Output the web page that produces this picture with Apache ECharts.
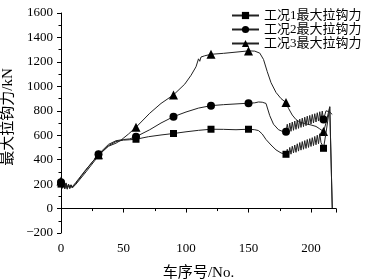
<!DOCTYPE html>
<html><head><meta charset="utf-8">
<script src="https://cdn.jsdelivr.net/npm/echarts@6/dist/echarts.min.js"></script>
<style>html,body{margin:0;padding:0;background:#fff}#c{width:367px;height:279px}</style>
</head><body><div id="c"></div>
<script>
const seriesNames = ['工况1最大拉钩力','工况2最大拉钩力','工况3最大拉钩力'];
const markerX = [0,30,60,90,120,150,180,210];
const xTicks = [0,50,100,150,200];
const yTicks = [-200,0,200,400,600,800,1000,1200,1400,1600];

const x1 = [0,1,2,3,4,5,6,7,8,9,10,12,20,30,38,44,50,55,60,70,80,90,100,110,120,130,140,150,155,158,161,164,168,172,176,180,
  181,182,183,184,185,186,187,188,189,190,191,192,193,194,195,196,197,198,199,200,201,202,203,204,205,206,207,208,209,210,212,215,217];
const y1 = [200,165,205,160,200,158,195,162,190,168,182,200,300,432,515,548,560,563,567,588,602,614,628,640,649,648,645,649,645,638,610,565,520,480,455,444,
  485,435,500,445,510,455,520,460,530,470,540,478,548,485,556,492,565,500,572,508,580,515,590,522,600,530,612,540,520,493,620,830,5];

const x2 = [0,1,2,3,4,5,6,7,8,9,10,12,20,30,38,44,50,55,60,71,80,90,100,110,120,130,140,150,155,158,159,161,164,167,170,174,177,180,
  181,182,183,184,185,186,187,188,189,190,191,192,193,194,195,196,197,198,199,200,201,202,203,204,205,206,207,208,209,210,212,215,217];
const y2 = [215,170,210,165,205,162,198,168,192,172,185,208,315,445,525,555,565,570,588,645,700,752,790,822,842,850,856,862,865,872,866,870,860,760,690,645,632,629,
  690,625,700,632,708,640,716,648,724,656,732,664,740,670,748,678,756,686,762,692,770,700,776,708,784,716,792,722,798,728,800,790,770,834,5];

const x3 = [0,1,2,3,4,5,6,7,8,9,10,12,20,30,38,44,48,54,60,71,80,90,99,104,108,110,111,112,115,120,130,140,150,155,159,162,165,168,172,176,180,
  182,185,188,191,195,200,204,207,210,212,215,217];
const y3 = [225,175,215,170,210,168,200,172,195,178,190,215,320,440,510,535,560,610,665,780,860,930,1018,1090,1160,1225,1205,1240,1250,1262,1270,1280,1290,1288,1272,1220,1120,1030,950,900,867,
  820,765,728,708,695,684,672,652,630,700,834,5];

const symbols = ['rect','circle','triangle'];
const symbolSizes = [7,8,9];

function build(xs, ys, sym, size) {
  return xs.map((x, i) => markerX.includes(x)
    ? {value:[x, ys[i]], symbol: sym, symbolSize: size}
    : {value:[x, ys[i]], symbol: 'none'});
}

const fontF = "'Liberation Serif','Noto Sans CJK SC',serif";
const chart = echarts.init(document.getElementById('c'), null, {renderer:'canvas'});
const allX = [x1,x2,x3], allY = [y1,y2,y3];
chart.setOption({
  animation:false,
  backgroundColor:'#fff',
  grid:{left:61, right:31, top:13, bottom:46, containLabel:false, outerBoundsMode:'none'},
  legend:{
    orient:'vertical', left:226, top:4, itemGap:1, itemWidth:27, itemHeight:9,
    textStyle:{fontFamily:fontF, fontSize:13, color:'#000'},
    data: seriesNames
  },
  xAxis:{
    type:'value', min:0, max:220, interval:50,
    name:'车序号/No.', nameLocation:'middle', nameGap:33,
    nameTextStyle:{fontFamily:fontF, fontSize:15, color:'#000'},
    axisLine:{lineStyle:{color:'#000', width:1}},
    axisTick:{show:true, length:4, lineStyle:{color:'#000'}},
    minorTick:{show:true, splitNumber:2, length:2.5, lineStyle:{color:'#000'}},
    axisLabel:{fontFamily:fontF, fontSize:13, color:'#000', margin:9,
      formatter: v => xTicks.includes(v) ? String(v) : ''},
    splitLine:{show:false}
  },
  yAxis:{
    type:'value', min:-200, max:1600, interval:200,
    name:'最大拉钩力/kN', nameLocation:'middle', nameGap:34,
    nameTextStyle:{fontFamily:fontF, fontSize:15, color:'#000', padding:[0,0,0,12]},
    axisLine:{show:true, lineStyle:{color:'#000', width:1}},
    axisTick:{show:true, length:4, lineStyle:{color:'#000'}},
    minorTick:{show:true, splitNumber:2, length:2.5, lineStyle:{color:'#000'}},
    axisLabel:{fontFamily:fontF, fontSize:13, color:'#000', margin:8,
      formatter: v => yTicks.includes(v) ? String(v).replace('-', '\u2212') : ''},
    splitLine:{show:false}
  },
  series: seriesNames.map((n, k) => ({
    name:n, type:'line', symbol:symbols[k], symbolSize:symbolSizes[k], showSymbol:true,
    data: build(allX[k], allY[k], symbols[k], symbolSizes[k]),
    itemStyle:{color:'#000'},
    lineStyle:{color:'#222', width:1},
    z: 3 - k
  }))
});
</script></body></html>
